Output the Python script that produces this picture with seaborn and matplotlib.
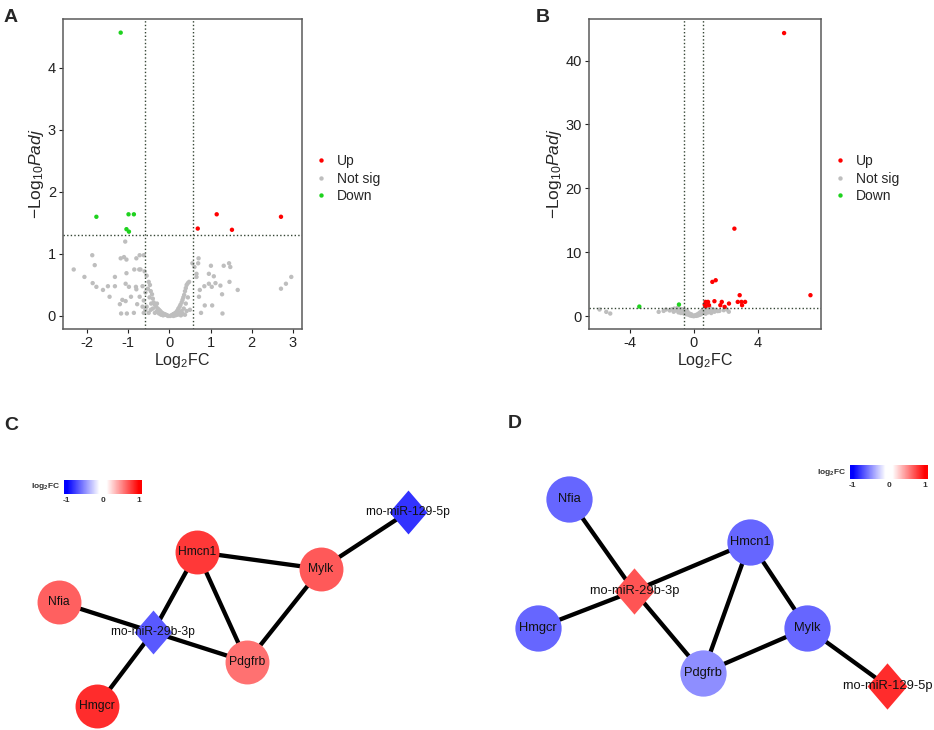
import numpy as np
import pandas as pd
import matplotlib
matplotlib.use("Agg")
import matplotlib.pyplot as plt
import seaborn as sns
from matplotlib.colors import LinearSegmentedColormap, Normalize

# ==============================
# data
# ==============================
# panel A volcano
a_up = [(0.69, 1.41), (1.15, 1.64), (1.52, 1.39), (2.71, 1.60)]
a_down = [(-1.18, 4.57), (-1.77, 1.60), (-0.99, 1.64), (-0.86, 1.64), (-1.04, 1.40), (-0.98, 1.36)]
a_notsig = [
    (-2.32, 0.75), (-2.06, 0.63), (-1.87, 0.98), (-1.81, 0.82), (-1.86, 0.53), (-1.77, 0.47),
    (-1.61, 0.42), (-1.49, 0.48), (-1.45, 0.31), (-1.32, 0.63), (-1.32, 0.48), (-1.18, 0.93),
    (-1.10, 0.95), (-1.04, 0.91), (-1.07, 1.20), (-1.04, 0.69), (-1.06, 0.52), (-1.20, 0.19),
    (-1.17, 0.04), (-1.14, 0.26), (-1.06, 0.24), (-1.03, 0.04), (-0.98, 0.47), (-0.93, 0.31),
    (-0.86, 0.05), (-0.85, 0.75), (-0.81, 0.47), (-0.80, 0.93), (-0.73, 0.75), (-0.72, 0.98),
    (-0.62, 0.98), (-0.78, 0.19), (-0.72, 0.31), (-0.65, 0.48), (-0.70, 0.75), (-0.80, 0.43),
    (-0.60, 0.72), (-0.55, 0.65), (-0.58, 0.38), (-0.62, 0.25), (-0.65, 0.15), (-0.58, 0.10),
    (-0.62, 0.05),
    (-0.50, 0.55), (-0.47, 0.50), (-0.52, 0.44), (-0.45, 0.40), (-0.42, 0.35), (-0.48, 0.30),
    (-0.40, 0.28), (-0.38, 0.22), (-0.44, 0.20), (-0.35, 0.18), (-0.32, 0.15), (-0.30, 0.20),
    (-0.28, 0.12), (-0.25, 0.10), (-0.30, 0.08), (-0.22, 0.08), (-0.20, 0.06), (-0.18, 0.05),
    (-0.15, 0.04), (-0.12, 0.03), (-0.10, 0.02), (-0.08, 0.02), (-0.05, 0.01), (-0.03, 0.00),
    (-0.25, 0.04), (-0.20, 0.02), (-0.15, 0.01), (-0.35, 0.05), (-0.40, 0.12), (-0.45, 0.10),
    (-0.55, 0.15), (-0.50, 0.05),
    (0.02, 0.00), (0.05, 0.01), (0.08, 0.02), (0.10, 0.03), (0.13, 0.04), (0.15, 0.05),
    (0.18, 0.07), (0.20, 0.09), (0.22, 0.12), (0.25, 0.15), (0.27, 0.18), (0.30, 0.22),
    (0.32, 0.26), (0.34, 0.30), (0.36, 0.34), (0.38, 0.40), (0.40, 0.45), (0.42, 0.50),
    (0.45, 0.53), (0.48, 0.55), (0.25, 0.05), (0.30, 0.08), (0.35, 0.12), (0.33, 0.03),
    (0.20, 0.02), (0.40, 0.20), (0.45, 0.30), (0.50, 0.10), (0.42, 0.08), (0.10, 0.00),
    (0.15, 0.01), (0.28, 0.01), (0.38, 0.02),
    (0.56, 0.85), (0.61, 0.79), (0.71, 0.93), (0.70, 0.85), (0.66, 0.68), (0.66, 0.63),
    (0.74, 0.42), (0.72, 0.31), (0.85, 0.48), (0.86, 0.17), (0.77, 0.05), (0.96, 0.68),
    (1.01, 0.81), (0.96, 0.52), (1.03, 0.47), (1.08, 0.64), (1.12, 0.53), (1.04, 0.17),
    (1.24, 0.49), (1.28, 0.35), (1.29, 0.04), (1.32, 0.81), (1.45, 0.85), (1.48, 0.79),
    (1.46, 0.55), (1.66, 0.42), (2.71, 0.44), (2.83, 0.52), (2.96, 0.63),
]

# panel B volcano
b_up = [
    (5.66, 44.3), (2.55, 13.7), (1.17, 5.37), (1.38, 5.63), (7.31, 3.29), (2.88, 3.29),
    (1.30, 2.35), (1.76, 2.24), (2.21, 1.98), (2.76, 2.24), (2.99, 2.24), (3.22, 2.24),
    (3.03, 1.72), (0.75, 2.24), (0.90, 2.24), (0.69, 1.83), (0.96, 1.72), (1.67, 1.72),
    (1.94, 1.46), (0.75, 1.56),
]
b_down = [(-3.40, 1.51), (-0.92, 1.83)]
b_notsig = [
    (-5.89, 1.05), (-5.47, 0.68), (-5.22, 0.42), (-2.19, 0.68), (-1.88, 0.83), (-1.73, 1.05),
    (-1.50, 0.90), (-1.35, 1.10), (-1.25, 0.70), (-1.20, 1.20), (-1.10, 0.90), (-1.00, 1.00),
    (-1.00, 1.30), (-0.95, 0.60), (-0.90, 1.20), (-0.85, 0.80), (-0.80, 0.50), (-0.75, 1.10),
    (-0.70, 0.70), (-0.65, 0.90), (-0.60, 0.40), (-0.55, 1.00), (-0.50, 0.60), (-0.45, 0.30),
    (-0.40, 0.80), (-0.35, 0.50), (-0.30, 0.20), (-0.25, 0.40), (-0.20, 0.10), (-0.15, 0.30),
    (-0.10, 0.05), (-0.05, 0.10), (0.00, 0.00), (0.05, 0.05), (0.10, 0.15), (0.15, 0.05),
    (0.20, 0.25), (0.25, 0.10), (0.30, 0.40), (0.35, 0.20), (0.40, 0.60), (0.45, 0.30),
    (0.50, 0.80), (0.55, 0.50), (0.60, 1.00), (0.65, 0.70), (0.70, 1.20), (0.75, 0.40),
    (0.80, 0.90), (0.85, 1.10), (0.90, 0.60), (0.95, 1.00), (1.00, 0.80), (1.00, 1.30),
    (1.05, 1.20), (1.10, 0.50), (1.15, 0.90), (1.20, 1.10), (1.30, 0.70), (1.40, 1.00),
    (1.50, 0.80), (1.61, 0.83), (1.88, 0.94), (2.09, 1.05), (2.20, 0.70),
]

# networks (node layout in figure pixels, colour = log2FC)
node_names = ["Hmcn1", "Mylk", "Nfia", "rno-miR-29b-3p", "Pdgfrb", "Hmgcr", "rno-miR-129-5p"]
node_kind = ["gene", "gene", "gene", "mirna", "gene", "gene", "mirna"]
c_x = [197, 321, 59, 153, 247, 97, 408]
c_y = [552, 569, 602, 632, 662, 706, 512]
c_fc = [0.80, 0.68, 0.66, -0.68, 0.60, 0.84, -0.82]
d_x = [750, 807, 569, 634, 703, 538, 887]
d_y = [542, 628, 499, 591, 673, 628, 686]
d_fc = [-0.64, -0.64, -0.64, 0.70, -0.50, -0.64, 0.84]
edges = [("Hmcn1", "Mylk"), ("Hmcn1", "rno-miR-29b-3p"), ("Hmcn1", "Pdgfrb"),
         ("Mylk", "Pdgfrb"), ("Mylk", "rno-miR-129-5p"), ("Nfia", "rno-miR-29b-3p"),
         ("rno-miR-29b-3p", "Pdgfrb"), ("rno-miR-29b-3p", "Hmgcr")]

# ==============================
# style
# ==============================
sns.set_style("white")
plt.rcParams["font.family"] = ["Liberation Sans", "DejaVu Sans"]
plt.rcParams["mathtext.fontset"] = "custom"
plt.rcParams["mathtext.rm"] = "Liberation Sans"
plt.rcParams["mathtext.it"] = "Liberation Sans:italic"
plt.rcParams["mathtext.bf"] = "Liberation Sans:bold"
plt.rcParams["axes.unicode_minus"] = False

pal = {"Up": "#ff0000", "Not sig": "#bebebe", "Down": "#1ed21e"}
fc_cmap = LinearSegmentedColormap.from_list(
    "fc", [(0, "#0000ff"), (0.45, "#ffffff"), (0.55, "#ffffff"), (1, "#ff0000")])

W, H = 934, 730
fig = plt.figure(figsize=(W / 100, H / 100), dpi=100)


def px_axes(l, t, r, b):
    return fig.add_axes([l / W, 1 - b / H, (r - l) / W, (b - t) / H])


def volcano(ax, up, notsig, down, xlim, ylim, xticks, yticks):
    df = pd.DataFrame(
        [(x, y, "Not sig") for x, y in notsig]
        + [(x, y, "Up") for x, y in up]
        + [(x, y, "Down") for x, y in down],
        columns=["log2fc", "padj", "group"])
    sns.scatterplot(data=df, x="log2fc", y="padj", hue="group",
                    hue_order=["Up", "Not sig", "Down"], palette=pal,
                    s=10, linewidth=0, ax=ax)
    for v in (-0.585, 0.585):
        ax.axvline(v, color="#354535", ls=(0, (1, 1.6)), lw=1)
    ax.axhline(-np.log10(0.05), color="#354535", ls=(0, (1, 1.6)), lw=1)
    ax.set_xlim(xlim)
    ax.set_ylim(ylim)
    ax.set_xticks(xticks)
    ax.set_yticks(yticks)
    ax.set_xlabel(r"$\mathrm{Log_2FC}$", fontsize=11.5, labelpad=1)
    ax.set_ylabel(r"$-\mathrm{Log_{10}}\mathit{Padj}$", fontsize=12.5, labelpad=1)
    ax.tick_params(axis="both", labelsize=10.5, colors="#222222", length=3,
                   width=0.8, direction="out", pad=2, bottom=True, left=True)
    for sp in ax.spines.values():
        sp.set_color("#5a5a5a")
        sp.set_linewidth(1.1)
    sns.move_legend(ax, "center left", bbox_to_anchor=(1.0, 0.485), frameon=False,
                    title=None, fontsize=10, handlelength=1, handletextpad=0.6,
                    labelspacing=0.25)


ax_a = px_axes(63, 19, 302, 329)
volcano(ax_a, a_up, a_notsig, a_down, (-2.58, 3.22), (-0.21, 4.79),
        [-2, -1, 0, 1, 2, 3], [0, 1, 2, 3, 4])
ax_b = px_axes(589, 19, 821, 329)
volcano(ax_b, b_up, b_notsig, b_down, (-6.55, 7.97), (-2.0, 46.5),
        [-4, 0, 4], [0, 10, 20, 30, 40])

# ==============================
# networks
# ==============================
ax_n = px_axes(0, 340, W, H)
ax_n.set_xlim(0, W)
ax_n.set_ylim(H, 340)
ax_n.axis("off")

norm = Normalize(-1, 1)
diamond = [(0, 1), (0.86, 0), (0, -1), (-0.86, 0), (0, 1)]


def network(xs, ys, fcs, size, fsize):
    pos = {n: (x, y) for n, x, y in zip(node_names, xs, ys)}
    for a, b in edges:
        ax_n.plot([pos[a][0], pos[b][0]], [pos[a][1], pos[b][1]],
                  color="black", lw=3.1, zorder=1, solid_capstyle="butt")
    for n, k, x, y, fc in zip(node_names, node_kind, xs, ys, fcs):
        ax_n.scatter([x], [y], s=size, marker="o" if k == "gene" else diamond,
                     color=fc_cmap(norm(fc)), linewidths=0, zorder=2)
        ax_n.text(x, y, n, ha="center", va="center", fontsize=fsize,
                  color="#111111", zorder=3)


network(c_x, c_y, c_fc, 1000, 8.7)
network(d_x, d_y, d_fc, 1110, 9.3)


def fc_legend(l, t, r, b, label_x):
    cax = px_axes(l, t, r, b)
    grad = np.linspace(-1.08, 1.08, 256)[None, :]
    cax.imshow(grad, cmap=fc_cmap, norm=norm, aspect="auto",
               extent=[-1.08, 1.08, 0, 1])
    cax.set_xticks([-1, 0, 1])
    cax.set_xticklabels(["-1", "0", "1"], fontsize=6, fontweight="bold",
                        color="#333333")
    cax.set_yticks([])
    cax.tick_params(axis="x", length=0, pad=2)
    for sp in cax.spines.values():
        sp.set_visible(False)
    fig.text(label_x / W, 1 - (t + b) / 2 / H, r"$\mathbf{log_2FC}$",
             ha="right", va="center", fontsize=6, color="#333333")


fc_legend(64, 480, 142, 494, 60)
fc_legend(850, 465, 928, 479, 846)

# panel letters
for letter, x, y in [("A", 4, 18), ("B", 536, 18), ("C", 4, 425), ("D", 508, 423)]:
    fig.text(x / W, 1 - y / H, letter, fontsize=14, fontweight="bold",
             ha="left", va="center")

fig.savefig("out.png", dpi=100)
